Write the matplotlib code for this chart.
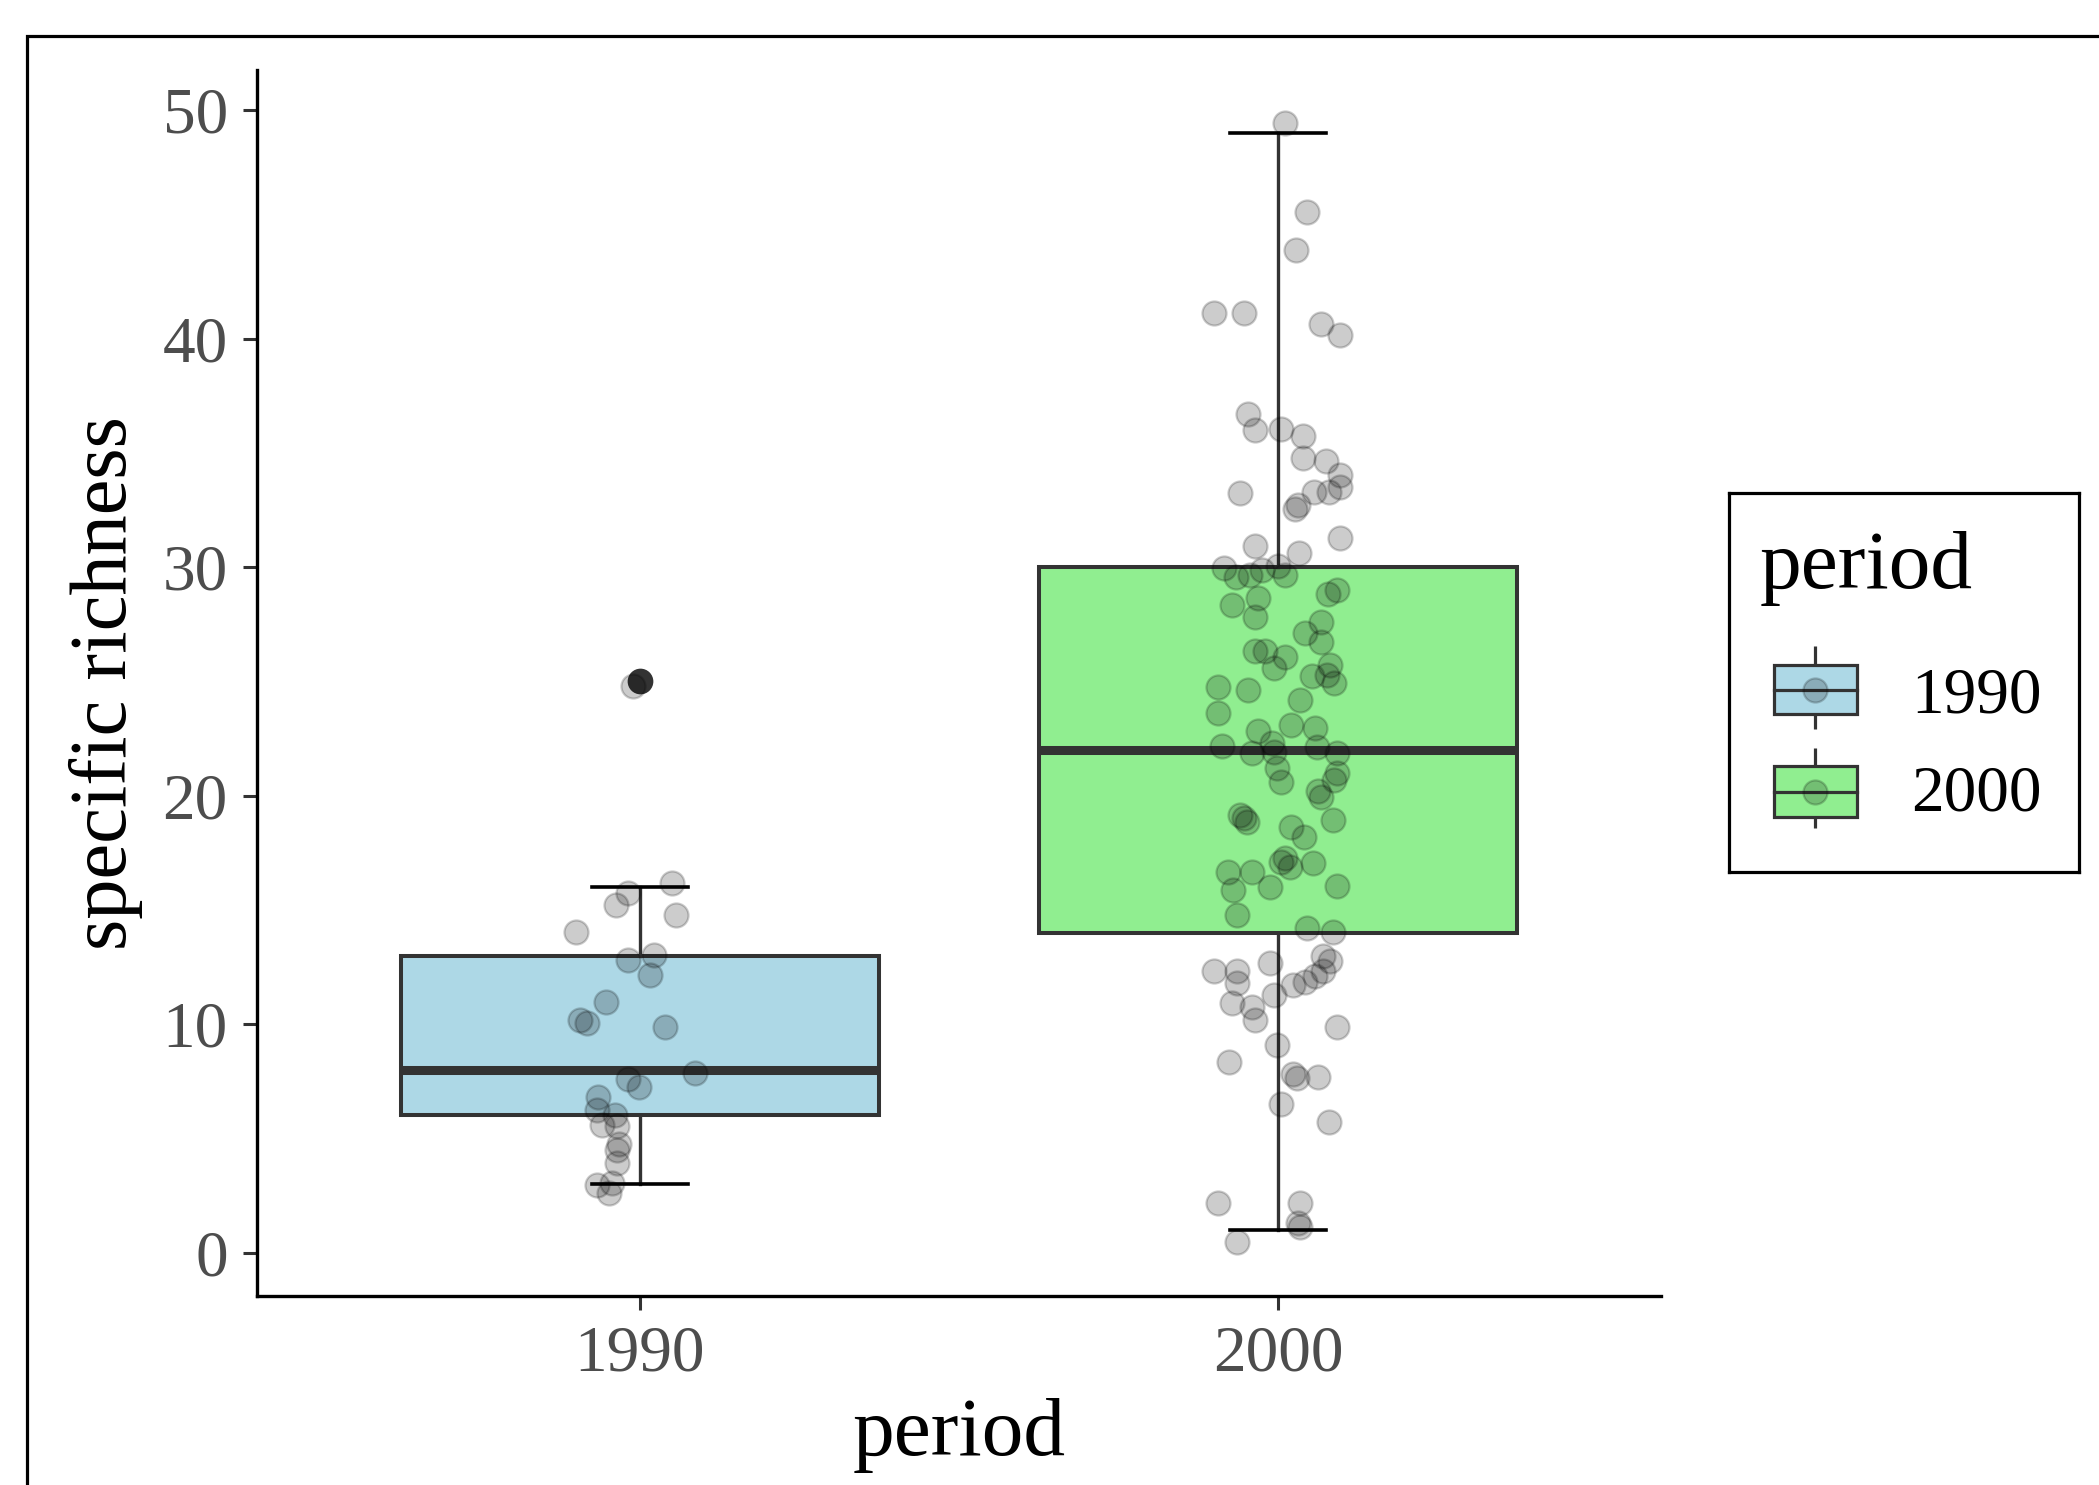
import matplotlib
matplotlib.use("Agg")
import matplotlib.pyplot as plt
from matplotlib.patches import Rectangle

# ---------------- data ----------------
periods = ["1990", "2000"]
box_fill = ["#ADD8E6", "#90EE90"]

# box statistics
whislo = [3, 1]
q1 = [6, 14]
med = [8, 22]
q3 = [13, 30]
whishi = [16, 49]
fliers_1990 = [25]
fliers_2000 = []

# jittered observations: horizontal jitter offset (category units) and value
jit_1990_dx = [-0.018, -0.037, 0.051, 0.056, -0.100, -0.018, 0.022, 0.016, -0.053,
               -0.094, -0.083, 0.039, 0.086, -0.018, -0.001, -0.065, -0.067, -0.039,
               -0.060, -0.036, -0.033, -0.036, -0.036, -0.067, -0.044, -0.048, -0.011]
jit_1990_y = [15.72, 15.21, 16.16, 14.77, 14.01, 12.80, 13.02, 12.14, 10.95,
              10.17, 10.03, 9.88, 7.87, 7.58, 7.26, 6.82, 6.24, 6.02,
              5.58, 5.54, 4.75, 4.49, 3.93, 2.95, 3.03, 2.59, 24.80]

jit_2000_dx = [0.011, 0.045, 0.028, -0.100, -0.053, 0.068, 0.097, -0.047, -0.036, 0.005,
               0.039, 0.039, 0.075, 0.097, 0.097, 0.080, 0.056, -0.060, 0.031, 0.027,
               -0.036, 0.097, 0.033,
               -0.085, -0.066, -0.044, -0.025, 0.000, 0.011, 0.078, 0.092, -0.031, -0.073,
               -0.036, 0.068, 0.042, 0.068, -0.036, -0.020, 0.011, -0.007, 0.082, 0.053,
               0.076, 0.087, -0.094, -0.047, 0.034, -0.094, 0.021, 0.058, -0.031, -0.010,
               -0.088, -0.041, -0.007, 0.061, 0.092, -0.002, 0.092, 0.004, 0.087, 0.068,
               0.063, 0.086, -0.060, -0.053, -0.049, 0.021, 0.040, 0.011, 0.005, 0.019,
               0.055, -0.078, -0.041, -0.013, -0.071, 0.092, -0.065, 0.045, 0.086,
               0.071, 0.082, 0.058, 0.071, -0.101, -0.065, -0.013, 0.023, 0.042, -0.065,
               -0.006, -0.073, -0.041, -0.036, 0.092, -0.001, -0.077, 0.029, 0.024, 0.063,
               0.004, 0.080, -0.094, 0.034, 0.031, 0.034, -0.065]
jit_2000_y = [49.42, 45.55, 43.87, 41.10, 41.10, 40.64, 40.15, 36.70, 36.00, 36.03,
              35.73, 34.76, 34.65, 34.03, 33.52, 33.30, 33.30, 33.25, 32.70, 32.55,
              30.93, 31.26, 30.63,
              29.96, 29.56, 29.65, 29.87, 30.04, 29.65, 28.80, 29.00, 28.63, 28.34,
              27.83, 27.61, 27.10, 26.73, 26.34, 26.34, 26.07, 25.57, 25.71, 25.24,
              25.27, 24.91, 24.76, 24.62, 24.18, 23.60, 23.09, 22.94, 22.82, 22.28,
              22.18, 21.85, 21.92, 22.14, 21.85, 21.19, 20.97, 20.60, 20.68, 19.95,
              20.20, 18.93, 19.15, 19.00, 18.85, 18.64, 18.17, 17.25, 17.10, 16.88,
              17.03, 16.67, 16.67, 16.01, 15.86, 16.04, 14.77, 14.19, 14.04,
              12.98, 12.77, 12.11, 12.31, 12.33, 12.33, 12.66, 11.71, 11.85, 11.78,
              11.27, 10.91, 10.76, 10.18, 9.86, 9.08, 8.32, 7.65, 7.80, 7.69,
              6.50, 5.72, 2.18, 2.18, 1.28, 1.10, 0.47]

y_ticks = [0, 10, 20, 30, 40, 50]

# ---------------- figure ----------------
W, H = 2099, 1485
DPI = 100
plt.rcParams["font.family"] = ["Liberation Serif", "DejaVu Serif"]
fig = plt.figure(figsize=(W / DPI, H / DPI), dpi=DPI)
fig.patch.set_facecolor("white")

TICK_FS = 47
TITLE_FS = 60

# outer frame
fig.patches.append(Rectangle((27 / W, -0.2), 2.0, (H - 36) / H + 0.2,
                             transform=fig.transFigure, fill=False,
                             edgecolor="black", linewidth=2.3, zorder=0))

ax_left, ax_right, ax_top, ax_bot = 257, 1661, 70, 1296
ax = fig.add_axes([ax_left / W, (H - ax_bot) / H, (ax_right - ax_left) / W,
                   (ax_bot - ax_top) / H])

pos = [1, 2]
stats = []
for i, fl in enumerate([fliers_1990, fliers_2000]):
    stats.append(dict(label=periods[i], whislo=whislo[i], q1=q1[i], med=med[i],
                      q3=q3[i], whishi=whishi[i], fliers=fl))

bp = ax.bxp(stats, positions=pos, widths=0.75, patch_artist=True,
            capwidths=0.15, showfliers=True,
            boxprops=dict(edgecolor="#333333", linewidth=2.9),
            medianprops=dict(color="#333333", linewidth=6.5, solid_capstyle="butt"),
            whiskerprops=dict(color="#333333", linewidth=2.4),
            capprops=dict(color="black", linewidth=2.6),
            flierprops=dict(marker="o", markerfacecolor="#333333",
                            markeredgecolor="#333333", markersize=16.5, markeredgewidth=2),
            zorder=2)
for patch, c in zip(bp["boxes"], box_fill):
    patch.set_facecolor(c)

pt_col = (0, 0, 0, 0.2)
PT_S = 300
PT_LW = 1.6
for p, dx, yy in [(1, jit_1990_dx, jit_1990_y), (2, jit_2000_dx, jit_2000_y)]:
    ax.scatter([p + d for d in dx], yy, s=PT_S, facecolors=[pt_col],
               edgecolors=[pt_col], linewidths=PT_LW, zorder=4)

ax.set_xlim(0.4, 2.6)
ax.set_ylim(-1.9, 51.75)
ax.set_xticks(pos)
ax.set_xticklabels(periods)
ax.set_yticks(y_ticks)
ax.set_yticklabels([str(t) for t in y_ticks])
for s in ["top", "right"]:
    ax.spines[s].set_visible(False)
for s in ["left", "bottom"]:
    ax.spines[s].set_linewidth(2.4)
    ax.spines[s].set_color("black")
ax.tick_params(axis="both", colors="#333333", length=10, width=2.2,
               labelsize=TICK_FS, labelcolor="#4D4D4D")
ax.tick_params(axis="y", pad=11)
ax.tick_params(axis="x", pad=11)
ax.set_xlabel("period", fontsize=TITLE_FS, color="black", labelpad=9)
ax.set_ylabel("specific richness", fontsize=TITLE_FS - 2, color="black", labelpad=14)
ax.set_facecolor("white")

# ---------------- legend ----------------
lx0, lx1, ly0, ly1 = 1729, 2079, 493, 872
lg = fig.add_axes([lx0 / W, (H - ly1) / H, (lx1 - lx0) / W, (ly1 - ly0) / H])
lg.set_xlim(lx0, lx1)
lg.set_ylim(ly1, ly0)
lg.set_xticks([])
lg.set_yticks([])
for s in lg.spines.values():
    s.set_linewidth(2.3)
    s.set_color("black")
lg.text(1760, 588, "period", fontsize=TITLE_FS, color="black", ha="left", va="baseline")
keys = [(646, 665, 714, 729, 697), (748, 766, 817, 828, 795)]
for i, (wt, bt, bb, wb, ty) in enumerate(keys):
    kx0, kx1 = 1774, 1857
    kc = (kx0 + kx1) / 2
    lg.add_patch(Rectangle((kx0, bt), kx1 - kx0, bb - bt, facecolor=box_fill[i],
                           edgecolor="#333333", linewidth=2.3, zorder=2))
    lg.plot([kc, kc], [wt, bt], color="#333333", lw=2.3, solid_capstyle="butt")
    lg.plot([kc, kc], [bb, wb], color="#333333", lw=2.3, solid_capstyle="butt")
    lg.plot([kx0, kx1], [(bt + bb) / 2] * 2, color="#333333", lw=2.3, zorder=3)
    lg.scatter([kc], [(bt + bb) / 2], s=PT_S, facecolors=[pt_col], edgecolors=[pt_col],
               linewidths=PT_LW, zorder=4)
    lg.text(1911, ty, periods[i], fontsize=TICK_FS, color="black", ha="left", va="center")

fig.savefig("out.png", dpi=DPI, facecolor="white")
